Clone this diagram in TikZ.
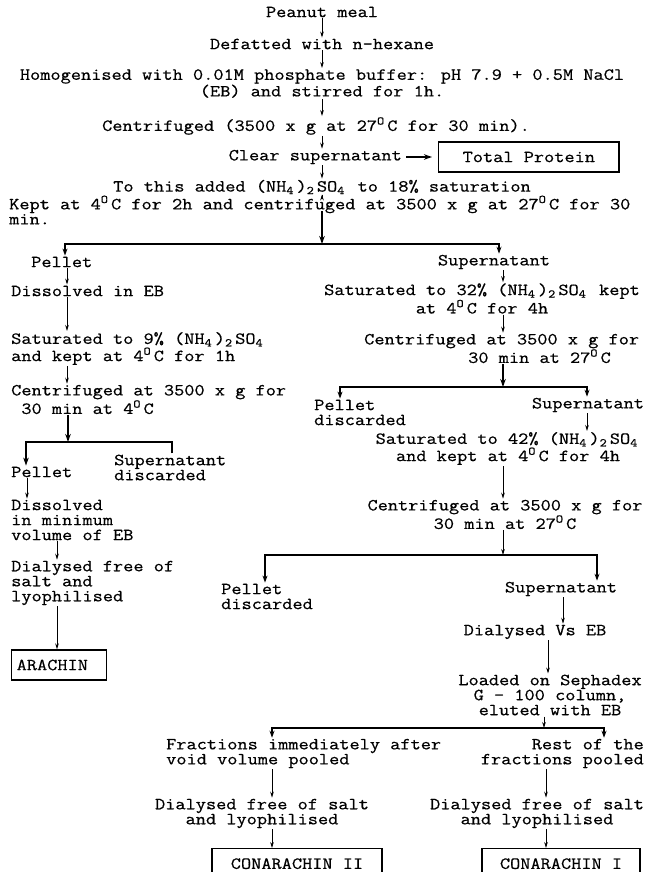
\documentclass[tikz,border=0pt]{standalone}
\usepackage{fontspec}
\setmainfont{Latin Modern Mono}[FakeStretch=1.17, FakeBold=0.6]
\usetikzlibrary{positioning}
\usetikzlibrary{arrows.meta}
\newcommand{\dgC}{\rlap{\textsuperscript{O}}\phantom{0}C}
\newcommand{\lowdigit}[1]{\rlap{\textsubscript{#1}}\phantom{0}}
\newcommand{\ammsulf}{(NH\lowdigit{4})\lowdigit{2}SO\lowdigit{4}}
\tikzset{
  stepnode/.style={
    inner sep=1pt,
    font=\fontsize{16.9}{15}\selectfont
  },
  midnode/.style={stepnode, align=center},
  leftnode/.style={stepnode, align=left, anchor=west},
  rightnode/.style={stepnode, align=right, anchor=east},
  resultbox/.style={
    stepnode,
    draw,
    line width=1.3pt,
    inner xsep=12pt,
    minimum height=30pt
  },
  stepflow/.style={-{Stealth[length=6pt,width=3.6pt]}, line width=0.8pt},
  bigstepflow/.style={-{Stealth[length=8pt,width=5.5pt]}, line width=1.5pt},
  forkline/.style={{Stealth[length=7pt,width=5pt]}-{Stealth[length=7pt,width=5pt]}, line width=1.6pt}
}

\begin{document}
\begin{tikzpicture}[x=1pt, y=-1pt]
  \useasboundingbox (0,0) rectangle (646,872);

  \node[midnode] (meal) at (322,12) {Peanut meal};
  \node[midnode] (defat) at (322,44) {Defatted with n-hexane};
  \node[midnode] (homog) at (322,83.5) {Homogenised with 0.01M phosphate buffer: pH 7.9 + 0.5M NaCl\\(EB) and stirred for 1h.};
  \node[midnode] (spin1) at (316,126) {Centrifuged (3500 x g at 27\dgC{} for 30 min).};
  \node[rightnode] (clear) at (403,157) {Clear supernatant};
  \node[resultbox, inner xsep=24pt, right=35pt of clear] (total) {Total Protein};
  \node[midnode] (addsalt) at (322,187) {To this added \ammsulf{} to 18\% saturation};
  \node[leftnode] (kept) at (8,210) {Kept at 4\dgC{} for 2h and centrifuged at 3500 x g at 27\dgC{} for 30\\min.};

  \node[leftnode] (pellet1) at (30,262) {Pellet};
  \node[leftnode] (dissolve1) at (10,291) {Dissolved in EB};
  \node[leftnode] (sat9) at (10,348.5) {Saturated to 9\% \ammsulf\\and kept at 4\dgC{} for 1h};
  \node[leftnode] (spin2) at (10,399.5) {Centrifuged at 3500 x g for\\\phantom{3}30 min at 4\dgC};
  \node[leftnode] (pellet2) at (10,472) {Pellet};
  \node[leftnode] (discard1) at (113,467.5) {Supernatant\\discarded};
  \node[leftnode] (dissolve2) at (10,520) {Dissolved\\in minimum\\volume of EB};
  \node[leftnode] (dialyse1) at (10,583) {Dialysed free of\\salt and\\lyophilised};
  \node[resultbox, anchor=west, inner xsep=5pt, text width=85pt] (arachin) at (11,665) {ARACHIN};

  \node[midnode] (super1) at (494,262) {Supernatant};
  \node[midnode] (sat32) at (482,298.5) {Saturated to 32\% \ammsulf{} kept\\at 4\dgC{} for 4h};
  \node[leftnode] (spin3) at (363,348.5) {Centrifuged at 3500 x g for\\\hspace*{104pt}30 min at 27\dgC};
  \node[leftnode] (discard2) at (313,412.5) {Pellet\\discarded};
  \node[midnode] (super2) at (588,405) {Supernatant};
  \node[midnode] (sat42) at (508,448.5) {Saturated to 42\% \ammsulf\\and kept at 4\dgC{} for 4h};
  \node[midnode] (spin4) at (505,514.5) {Centrifuged at 3500 x g for\\30 min at 27\dgC};
  \node[leftnode] (discard3) at (220,596.5) {Pellet\\discarded};
  \node[midnode] (super3) at (561,589) {Supernatant};
  \node[midnode] (dialvs) at (535,632) {Dialysed Vs EB};
  \node[midnode] (sephadex) at (550,695) {Loaded on Sephadex\\G - 100 column,\\eluted with EB};
  \node[leftnode] (early) at (165,753.5) {Fractions immediately after\\void volume pooled};
  \node[rightnode] (late) at (645,753.5) {Rest of the\\fractions pooled};
  \node[midnode] (dialyse2) at (262,813.5) {Dialysed free of salt\\and lyophilised};
  \node[midnode] (dialyse3) at (537,813.5) {Dialysed free of salt\\and lyophilised};
  \node[resultbox, anchor=north, minimum width=170pt] (conII) at (297,848) {CONARACHIN II};
  \node[resultbox, anchor=north, minimum width=158pt] (conI) at (561,848) {CONARACHIN I};

  \coordinate (cmain) at (322,0);
  \coordinate (keptout) at (322,211);
  \coordinate (fork1) at (322,244);
  \coordinate (fork1l) at (65,244);
  \coordinate (fork1r) at (499,244);
  \coordinate (cleft) at (67,0);
  \coordinate (fork2) at (68,442);
  \coordinate (fork2l) at (26,442);
  \coordinate (fork2r) at (172,442);
  \coordinate (cpellet) at (27,0);
  \coordinate (cdialyse) at (57,0);
  \coordinate (cright) at (503,0);
  \coordinate (fork3) at (503,387);
  \coordinate (fork3l) at (340,387);
  \coordinate (fork3r) at (587,387);
  \coordinate (fork4) at (503,555);
  \coordinate (fork4l) at (265,555);
  \coordinate (fork4r) at (597,555);
  \coordinate (cvs) at (563,0);
  \coordinate (cseph) at (548,0);
  \coordinate (fork5) at (544,728);
  \coordinate (fork5l) at (272,728);
  \coordinate (fork5r) at (604,728);
  \coordinate (cconl) at (272,0);
  \coordinate (cconr) at (546,0);

  \draw[stepflow] (meal) -- (defat);
  \draw[stepflow] (defat) -- (homog);
  \draw[stepflow] (homog.south -| cmain) -- (spin1.north -| cmain);
  \draw[stepflow] (spin1.south -| cmain) -- (clear.north -| cmain);
  \draw[bigstepflow, shorten <=3pt, shorten >=6pt] (clear) -- (total);
  \draw[stepflow] (clear.south -| cmain) -- (addsalt.north -| cmain);
  \draw[stepflow] (addsalt.south -| cmain) -- (kept.north -| cmain);
  \draw[bigstepflow] (keptout) -- (fork1);
  \draw[forkline] (pellet1.north -| fork1l) -- (fork1l) -- (fork1r) -- (super1.north -| fork1r);

  \draw[stepflow] (pellet1.south -| cleft) -- (dissolve1.north -| cleft);
  \draw[stepflow] (dissolve1.south -| cleft) -- (sat9.north -| cleft);
  \draw[stepflow] (sat9.south -| cleft) -- (spin2.north -| cleft);
  \draw[bigstepflow] (spin2.south -| fork2) -- (fork2);
  \draw[bigstepflow] (discard1.north -| fork2r) -- (fork2r) -- (fork2l) -- (pellet2.north -| fork2l);
  \draw[stepflow] (pellet2.south -| cpellet) -- (dissolve2.north -| cpellet);
  \draw[stepflow] (dissolve2.south -| cdialyse) -- (dialyse1.north -| cdialyse);
  \draw[stepflow] (dialyse1.south -| cdialyse) -- (arachin.north -| cdialyse);

  \draw[stepflow] (super1.south -| cright) -- (sat32.north -| cright);
  \draw[stepflow] (sat32.south -| cright) -- (spin3.north -| cright);
  \draw[bigstepflow] (spin3.south -| fork3) -- (fork3);
  \draw[forkline] (discard2.north -| fork3l) -- (fork3l) -- (fork3r) -- (super2.north -| fork3r);
  \draw[stepflow] (super2.south -| fork3r) -- (sat42.north -| fork3r);
  \draw[stepflow] (sat42.south -| cright) -- (spin4.north -| cright);
  \draw[stepflow] (spin4.south -| fork4) -- (fork4);
  \draw[forkline] (discard3.north -| fork4l) -- (fork4l) -- (fork4r) -- (super3.north -| fork4r);
  \draw[stepflow] (super3.south -| cvs) -- (dialvs.north -| cvs);
  \draw[stepflow] (dialvs.south -| cseph) -- (sephadex.north -| cseph);
  \draw[stepflow] (sephadex.south -| fork5) -- (fork5);
  \draw[forkline] (early.north -| fork5l) -- (fork5l) -- (fork5r) -- (late.north -| fork5r);
  \draw[stepflow] (early.south -| cconl) -- (dialyse2.north -| cconl);
  \draw[stepflow] (late.south -| cconr) -- (dialyse3.north -| cconr);
  \draw[stepflow] (dialyse2.south -| cconl) -- (conII.north -| cconl);
  \draw[stepflow] (dialyse3.south -| cconr) -- (conI.north -| cconr);
\end{tikzpicture}
\end{document}
